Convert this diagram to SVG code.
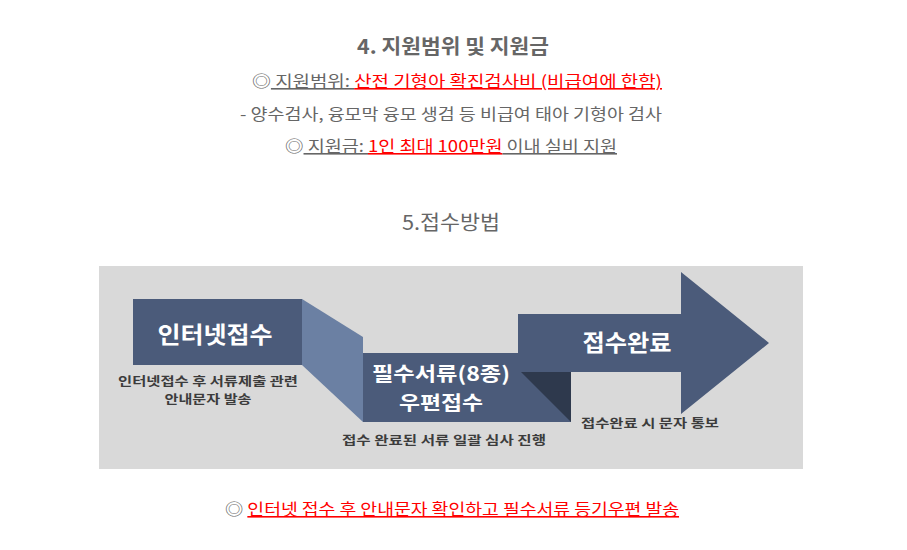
<svg xmlns="http://www.w3.org/2000/svg" width="907" height="550" viewBox="0 0 907 550">
<style>
.k{font-family:"Malgun Gothic","Noto Sans CJK KR","Noto Sans",sans-serif}
.g{fill:#666666}
.r{fill:#ff0000}
.u{text-decoration:underline}
.t{font-size:16px}
.w{fill:#ffffff;font-weight:bold;font-size:23px}
.w2{fill:#ffffff;font-weight:bold;font-size:19.5px}
.d{fill:#3c3c3c;font-weight:bold;font-size:12px}
.box{fill:#4b5b7a}
</style>
<rect width="907" height="550" fill="#ffffff"/>
<g id="header">
<text class="k g" x="453" y="54" font-size="20" font-weight="bold" text-anchor="middle" textLength="192" lengthAdjust="spacingAndGlyphs">4. 지원범위 및 지원금</text>
<text class="k t" x="252" y="87" textLength="410" lengthAdjust="spacingAndGlyphs"><tspan class="g" fill="#999">◎</tspan><tspan class="g u"> 지원범위: </tspan><tspan class="r u">산전 기형아 확진검사비 (비급여에 한함)</tspan></text>
<text class="k t g" x="240" y="120" textLength="422" lengthAdjust="spacingAndGlyphs">- 양수검사, 융모막 융모 생검 등 비급여 태아 기형아 검사</text>
<text class="k t" x="285" y="152" textLength="332" lengthAdjust="spacingAndGlyphs"><tspan class="g" fill="#999">◎</tspan><tspan class="g u"> 지원금: </tspan><tspan class="r u">1인 최대 100만원</tspan><tspan class="g u"> 이내 실비 지원</tspan></text>
<text class="k g" x="402" y="230" font-size="20" textLength="98" lengthAdjust="spacingAndGlyphs">5.접수방법</text>
</g>
<rect id="panel" x="99" y="266" width="704" height="203" fill="#d9d9d9"/>
<g id="connectors">
<polygon points="302,299 363,337 363,422 302,365" fill="#6b80a3"/>
</g>
<g id="node-internet">
<rect class="box" x="133" y="299" width="169" height="66"/>
<text class="k w" x="215" y="343" text-anchor="middle" textLength="115" lengthAdjust="spacingAndGlyphs">인터넷접수</text>
<text class="k d" x="208" y="386" text-anchor="middle" textLength="180" lengthAdjust="spacingAndGlyphs">인터넷접수 후 서류제출 관련</text>
<text class="k d" x="208" y="404" text-anchor="middle" textLength="87" lengthAdjust="spacingAndGlyphs">안내문자 발송</text>
</g>
<g id="node-post">
<rect class="box" x="363" y="353" width="208" height="69"/>
<polygon points="521,372 571,372 571,422" fill="#2e394d"/>
<text class="k w2" x="441" y="381" text-anchor="middle" textLength="138" lengthAdjust="spacingAndGlyphs">필수서류(8종)</text>
<text class="k w2" x="441" y="410" text-anchor="middle" textLength="84" lengthAdjust="spacingAndGlyphs">우편접수</text>
<text class="k d" x="444" y="445" text-anchor="middle" textLength="204" lengthAdjust="spacingAndGlyphs">접수 완료된 서류 일괄 심사 진행</text>
</g>
<g id="node-done">
<polygon class="box" points="518,314 681,314 681,272 769,343 681,414 681,372 571,372 571,353 518,353"/>
<text class="k w" x="627" y="351" text-anchor="middle" textLength="89" lengthAdjust="spacingAndGlyphs">접수완료</text>
<text class="k d" x="650" y="428" text-anchor="middle" textLength="138" lengthAdjust="spacingAndGlyphs">접수완료 시 문자 통보</text>
</g>
<g id="footer">
<text class="k t" x="225" y="515" textLength="454" lengthAdjust="spacingAndGlyphs"><tspan class="g" fill="#999">◎ </tspan><tspan class="r u">인터넷 접수 후 안내문자 확인하고 필수서류 등기우편 발송</tspan></text>
</g>
</svg>
